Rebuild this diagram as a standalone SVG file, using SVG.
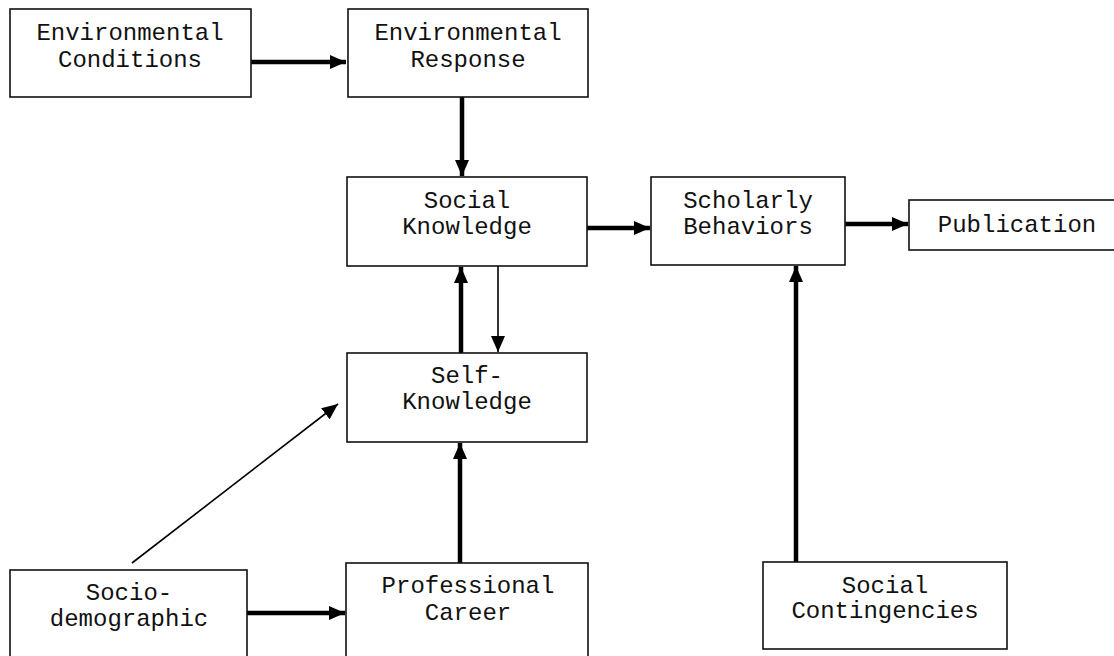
<svg xmlns="http://www.w3.org/2000/svg" width="1114" height="656" viewBox="0 0 1114 656">
<defs>
<style>
.box{fill:#fff;stroke:#111;stroke-width:1.6}
.t{font-family:"Liberation Mono","Courier New",monospace;font-size:24px;fill:#111;text-anchor:middle}
.thick{stroke:#000;stroke-width:4.5;fill:none}
.thin{stroke:#000;stroke-width:1.6;fill:none}
</style>
<marker id="ah" markerUnits="userSpaceOnUse" viewBox="0 0 16 14" refX="16" refY="7" markerWidth="16" markerHeight="14" orient="auto">
<path d="M0,0 L16,7 L0,14 Z" fill="#000"/>
</marker>
</defs>
<rect width="1114" height="656" fill="#fff"/>
<g id="connectors">
<line class="thick" x1="251" y1="62" x2="346" y2="62" marker-end="url(#ah)"/>
<line class="thick" x1="462" y1="97" x2="462" y2="176" marker-end="url(#ah)"/>
<line class="thick" x1="587" y1="228" x2="650" y2="228" marker-end="url(#ah)"/>
<line class="thick" x1="845" y1="224" x2="908" y2="224" marker-end="url(#ah)"/>
<line class="thick" x1="461" y1="353" x2="461" y2="267" marker-end="url(#ah)"/>
<line class="thin" x1="498" y1="266" x2="498" y2="352" marker-end="url(#ah)"/>
<line class="thick" x1="460" y1="563" x2="460" y2="443" marker-end="url(#ah)"/>
<line class="thin" x1="132" y1="563" x2="338" y2="404" marker-end="url(#ah)"/>
<line class="thick" x1="247" y1="613" x2="345" y2="613" marker-end="url(#ah)"/>
<line class="thick" x1="796" y1="562" x2="796" y2="266" marker-end="url(#ah)"/>
</g>
<g id="env-conditions">
<rect class="box" x="10" y="9" width="241" height="88"/>
<text class="t" x="130" y="40">Environmental</text>
<text class="t" x="130" y="67">Conditions</text>
</g>
<g id="env-response">
<rect class="box" x="348" y="9" width="240" height="88"/>
<text class="t" x="468" y="40">Environmental</text>
<text class="t" x="468" y="67">Response</text>
</g>
<g id="social-knowledge">
<rect class="box" x="347" y="177" width="240" height="89"/>
<text class="t" x="467" y="208">Social</text>
<text class="t" x="467" y="234">Knowledge</text>
</g>
<g id="scholarly-behaviors">
<rect class="box" x="651" y="177" width="194" height="88"/>
<text class="t" x="748" y="208">Scholarly</text>
<text class="t" x="748" y="234">Behaviors</text>
</g>
<g id="publication">
<rect class="box" x="909" y="200" width="215" height="50"/>
<text class="t" x="1017" y="232">Publication</text>
</g>
<g id="self-knowledge">
<rect class="box" x="347" y="353" width="240" height="89"/>
<text class="t" x="467" y="383">Self-</text>
<text class="t" x="467" y="409">Knowledge</text>
</g>
<g id="socio-demographic">
<rect class="box" x="10" y="570" width="237" height="100"/>
<text class="t" x="129" y="600">Socio-</text>
<text class="t" x="129" y="626">demographic</text>
</g>
<g id="professional-career">
<rect class="box" x="346" y="563" width="242" height="110"/>
<text class="t" x="468" y="593">Professional</text>
<text class="t" x="468" y="620">Career</text>
</g>
<g id="social-contingencies">
<rect class="box" x="763" y="562" width="244" height="87"/>
<text class="t" x="885" y="593">Social</text>
<text class="t" x="885" y="618">Contingencies</text>
</g>
</svg>
